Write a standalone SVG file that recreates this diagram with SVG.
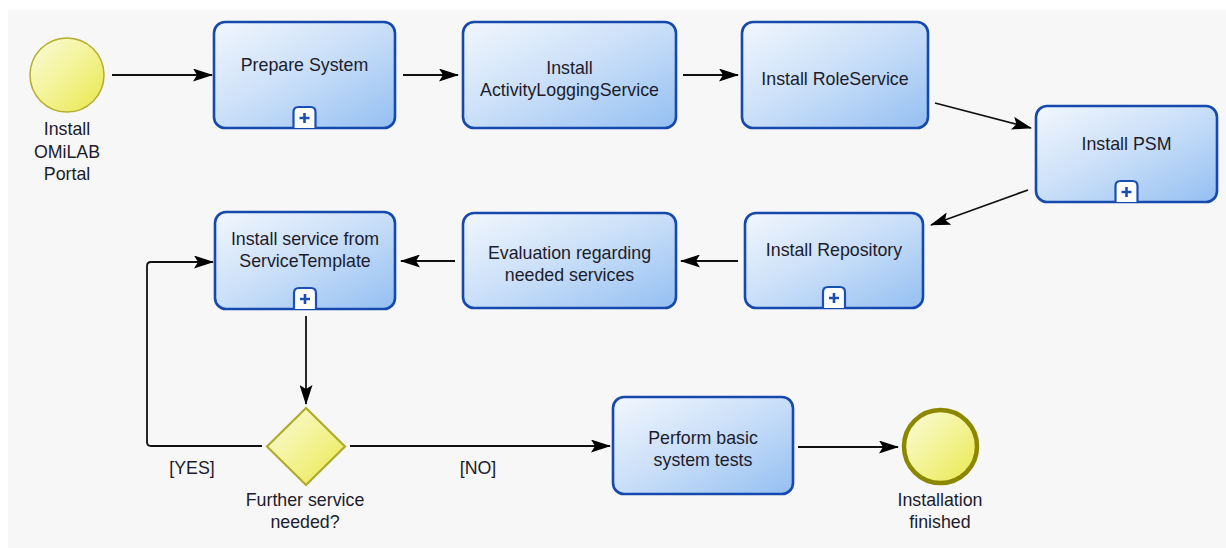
<svg xmlns="http://www.w3.org/2000/svg" width="1226" height="548" viewBox="0 0 1226 548">
  <defs>
    <linearGradient id="taskFill" x1="0" y1="0" x2="1" y2="1">
      <stop offset="0" stop-color="#f2f7fd"/>
      <stop offset="0.5" stop-color="#c8def8"/>
      <stop offset="1" stop-color="#94bff2"/>
    </linearGradient>
    <linearGradient id="yellowFill" x1="0" y1="0" x2="1" y2="1">
      <stop offset="0" stop-color="#fbfbdc"/>
      <stop offset="0.5" stop-color="#f3f396"/>
      <stop offset="1" stop-color="#e8e84a"/>
    </linearGradient>
    <marker id="arrow" viewBox="0 0 20 13" refX="19" refY="6.5" markerWidth="20" markerHeight="13" markerUnits="userSpaceOnUse" orient="auto">
      <path d="M0,0 L20,6.5 L0,13 L4,6.5 Z" fill="#000"/>
    </marker>
    <g id="subMarker">
      <path d="M-11,0 V-16 Q-11,-21 -6,-21 H6 Q11,-21 11,-16 V0" fill="#fff" stroke="#1a4fb3" stroke-width="2.2"/>
      <path d="M-5,-10 H5 M0,-15 V-5" stroke="#1a4fb3" stroke-width="2.6"/>
    </g>
  </defs>
  <style>
    .task { fill: url(#taskFill); stroke: #1549ad; stroke-width: 2.6; }
    .event { fill: url(#yellowFill); stroke: #b3ae2c; stroke-width: 1.5; }
    .endEvent { fill: url(#yellowFill); stroke: #8c8700; stroke-width: 4.5; }
    .gateway { fill: url(#yellowFill); stroke: #b0ab2a; stroke-width: 2.2; }
    .conn { fill: none; stroke: #111; stroke-width: 1.8; marker-end: url(#arrow); }
    text { font-family: "Liberation Sans", Arial, sans-serif; font-size: 17.8px; fill: #1c1c2c; text-anchor: middle; }
  </style>

  <rect x="0" y="0" width="1226" height="548" fill="#ffffff"/>
  <rect x="8" y="10" width="1218" height="538" fill="#f7f7f7"/>

  <!-- connectors -->
  <g id="connectors">
    <line class="conn" x1="112" y1="75" x2="212" y2="75"/>
    <line class="conn" x1="403" y1="75" x2="458" y2="75"/>
    <line class="conn" x1="683" y1="75" x2="738" y2="75"/>
    <line class="conn" x1="935" y1="103" x2="1031" y2="128"/>
    <line class="conn" x1="1028" y1="190" x2="931" y2="225"/>
    <line class="conn" x1="738" y1="261" x2="681" y2="261"/>
    <line class="conn" x1="455" y1="261" x2="401" y2="261"/>
    <line class="conn" x1="306" y1="316" x2="306" y2="404"/>
    <path class="conn" d="M262,446 H151 Q147,446 147,442 V266 Q147,262 151,262 H213"/>
    <line class="conn" x1="350" y1="446" x2="610" y2="446"/>
    <line class="conn" x1="798" y1="447" x2="898" y2="447"/>
    <text x="192" y="474">[YES]</text>
    <text x="478" y="474">[NO]</text>
  </g>

  <g id="start">
    <circle class="event" cx="67" cy="75" r="37"/>
    <text x="67" y="135">Install</text>
    <text x="67" y="158">OMiLAB</text>
    <text x="67" y="180">Portal</text>
  </g>

  <g id="prepare">
    <rect class="task" x="214" y="22" width="181" height="106" rx="11"/>
    <use href="#subMarker" x="304.5" y="128"/>
    <text x="304.5" y="71">Prepare System</text>
  </g>

  <g id="activityLogging">
    <rect class="task" x="463" y="22" width="213" height="106" rx="11"/>
    <text x="569.5" y="74">Install</text>
    <text x="569.5" y="96">ActivityLoggingService</text>
  </g>

  <g id="roleService">
    <rect class="task" x="742" y="22" width="186" height="106" rx="11"/>
    <text x="835" y="85">Install RoleService</text>
  </g>

  <g id="psm">
    <rect class="task" x="1036" y="106" width="181" height="96" rx="11"/>
    <use href="#subMarker" x="1126.5" y="202"/>
    <text x="1126.5" y="150">Install PSM</text>
  </g>

  <g id="repository">
    <rect class="task" x="745" y="213" width="178" height="95" rx="11"/>
    <use href="#subMarker" x="834" y="308"/>
    <text x="834" y="256">Install Repository</text>
  </g>

  <g id="evaluation">
    <rect class="task" x="463" y="213" width="213" height="95" rx="11"/>
    <text x="569.5" y="259">Evaluation regarding</text>
    <text x="569.5" y="281">needed services</text>
  </g>

  <g id="installService">
    <rect class="task" x="215" y="212" width="180" height="97" rx="11"/>
    <use href="#subMarker" x="305" y="309"/>
    <text x="305" y="245">Install service from</text>
    <text x="305" y="267">ServiceTemplate</text>
  </g>

  <g id="gateway">
    <polygon class="gateway" points="306,408 345,446.5 306,485 267,446.5"/>
    <text x="305" y="506">Further service</text>
    <text x="305" y="528">needed?</text>
  </g>

  <g id="tests">
    <rect class="task" x="613" y="397" width="180" height="97" rx="11"/>
    <text x="703" y="444">Perform basic</text>
    <text x="703" y="466">system tests</text>
  </g>

  <g id="end">
    <circle class="endEvent" cx="940.5" cy="446.5" r="36.5"/>
    <text x="940" y="506">Installation</text>
    <text x="940" y="528">finished</text>
  </g>
</svg>
